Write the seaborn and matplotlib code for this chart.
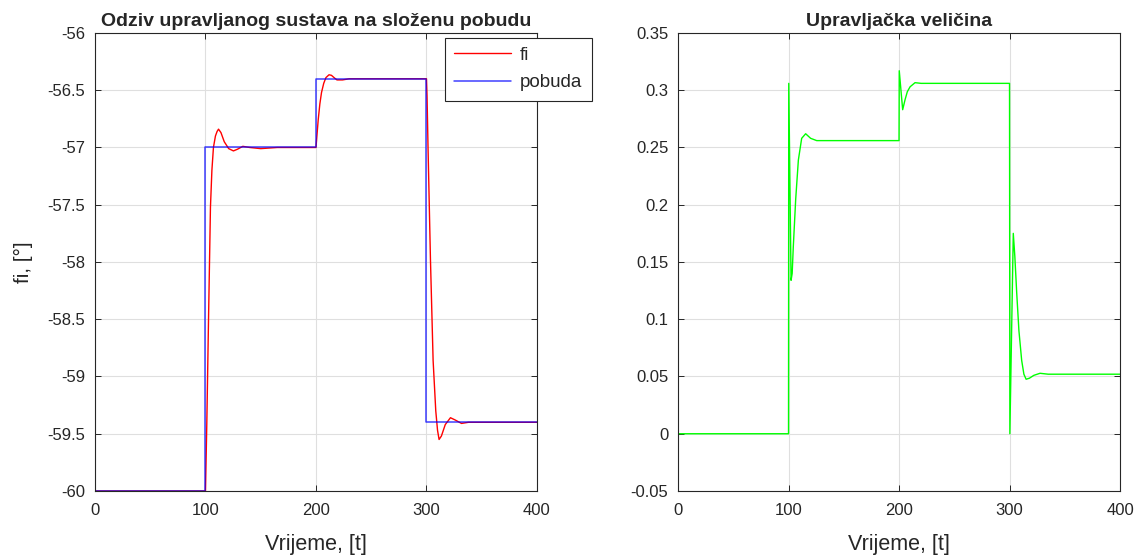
"""
Odziv upravljanog sustava na složenu pobudu - rekreacija MATLAB grafa
"""

import numpy as np
import pandas as pd
import matplotlib
matplotlib.use('Agg')
import matplotlib.pyplot as plt
from matplotlib.ticker import FuncFormatter
import seaborn as sns

# ---- podaci očitani sa slike ----
# pobuda (referentni signal), stepenasta
t_pobuda = [0, 100, 100, 200, 200, 300, 300, 400]
pobuda = [-60.0, -60.0, -57.0, -57.0, -56.4, -56.4, -59.4, -59.4]

# odziv fi
t_fi = [0, 100, 101.2, 102.7, 104.5, 105.8, 107.2, 109.0, 110.5, 111.8, 114.0,
        117.0, 121.0, 125.3, 129.0, 133.8, 140.0, 150.0, 165.0, 200.0,
        201.0, 202.0, 203.5, 205.0, 207.0, 209.0, 211.8, 214.0, 217.0, 219.0,
        224.0, 230.0, 245.0, 300.0,
        300.5, 301.4, 303.6, 306.0, 308.4, 310.0, 311.4, 313.5, 317.0, 321.7,
        326.0, 331.7, 338.0, 350.0, 400.0]
fi = [-60.0, -60.0, -59.41, -58.53, -57.52, -57.2, -57.0, -56.9, -56.86, -56.84, -56.87,
      -56.95, -57.01, -57.03, -57.015, -56.99, -57.0, -57.01, -57.0, -57.0,
      -56.88, -56.76, -56.62, -56.52, -56.44, -56.39, -56.365, -56.37, -56.395, -56.41,
      -56.41, -56.40, -56.40, -56.40,
      -56.55, -57.0, -57.98, -58.86, -59.3, -59.47, -59.55, -59.52, -59.42, -59.36,
      -59.38, -59.41, -59.40, -59.40, -59.40]

# upravljačka veličina u
t_u = [0, 100, 100.2, 102.3, 103.3, 104.3, 106.5, 108.9, 111.9, 115.5, 120.0, 125.5, 200.0,
       200.2, 203.3, 205.4, 207.5, 210.0, 214.5, 220.0, 300.0,
       300.3, 303.4, 304.8, 306.5, 308.5, 311.0, 313.0, 315.0, 318.0, 322.0, 327.6, 335.0, 400.0]
u = [0.0, 0.0, 0.306, 0.134, 0.140, 0.163, 0.205, 0.239, 0.258, 0.262, 0.258, 0.256, 0.256,
     0.317, 0.283, 0.2915, 0.2987, 0.303, 0.3066, 0.306, 0.306,
     0.0, 0.175, 0.155, 0.123, 0.090, 0.064, 0.052, 0.0476, 0.0485, 0.051, 0.0528, 0.052, 0.052]

# osi
x_ticks = [0, 100, 200, 300, 400]
y_ticks_fi = [-60, -59.5, -59, -58.5, -58, -57.5, -57, -56.5, -56]
y_ticks_u = [-0.05, 0, 0.05, 0.1, 0.15, 0.2, 0.25, 0.3, 0.35]

# ---- stil ----
sns.set_style('white')
plt.rcParams['font.family'] = ['Liberation Sans', 'DejaVu Sans']
plt.rcParams['axes.unicode_minus'] = False

df_pob = pd.DataFrame({'t': t_pobuda, 'v': pobuda})
df_fi = pd.DataFrame({'t': t_fi, 'v': fi})
df_u = pd.DataFrame({'t': t_u, 'v': u})

fig = plt.figure(figsize=(11.43, 5.57), dpi=100)
ax1 = fig.add_axes([0.0831, 0.1185, 0.3867, 0.8223])
ax2 = fig.add_axes([0.5932, 0.1185, 0.3867, 0.8223])

sns.lineplot(data=df_fi, x='t', y='v', ax=ax1, color='#ff0000', lw=1.0,
             estimator=None, sort=False, label='fi')
sns.lineplot(data=df_pob, x='t', y='v', ax=ax1, color='#0000ff', lw=1.1,
             estimator=None, sort=False, label='pobuda', alpha=0.75)
sns.lineplot(data=df_u, x='t', y='v', ax=ax2, color='#00ff00', lw=1.0,
             estimator=None, sort=False)

fmt = FuncFormatter(lambda v, p: '%g' % v)

for ax, yt in [(ax1, y_ticks_fi), (ax2, y_ticks_u)]:
    ax.set_xlim(0, 400)
    ax.set_ylim(yt[0], yt[-1])
    ax.set_xticks(x_ticks)
    ax.set_yticks(yt)
    ax.xaxis.set_major_formatter(fmt)
    ax.yaxis.set_major_formatter(fmt)
    ax.grid(True, color='#dfdfdf', lw=0.8)
    ax.set_axisbelow(True)
    ax.tick_params(direction='in', length=4, width=0.7, colors='#262626',
                   labelsize=12, top=True, right=True, bottom=True, left=True)
    ax.tick_params(axis='x', pad=9)
    ax.tick_params(axis='y', pad=7)
    for s in ax.spines.values():
        s.set_color('#262626')
        s.set_linewidth(0.8)
    ax.set_xlabel('Vrijeme, [t]', fontsize=15.5, color='#262626', labelpad=11)

ax1.set_ylabel('fi, [°]', fontsize=15, color='#262626', labelpad=10)
ax2.set_ylabel('')
ax1.set_title('Odziv upravljanog sustava na složenu pobudu', fontsize=14,
              fontweight='bold', pad=5)
ax2.set_title('Upravljačka veličina', fontsize=14, fontweight='bold', pad=5)

leg = ax1.legend(loc='upper right', bbox_to_anchor=(1.124, 0.99), fontsize=13.5,
                 frameon=True, fancybox=False, edgecolor='#262626',
                 handlelength=3.0, handletextpad=0.5, borderpad=0.5,
                 labelspacing=0.55, borderaxespad=0)
leg.get_frame().set_linewidth(0.8)
leg.get_frame().set_alpha(1.0)

plt.savefig('out.png', dpi=100)
